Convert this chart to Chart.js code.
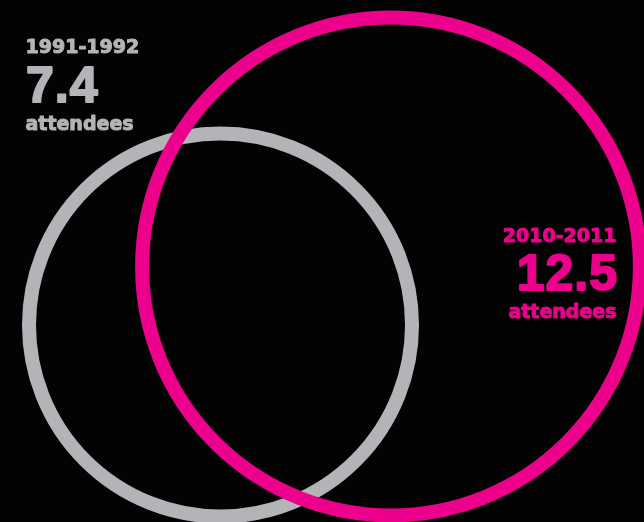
<!DOCTYPE html>
<html>
<head>
<meta charset="utf-8">
<script src="https://cdn.jsdelivr.net/npm/chart.js@4"></script>
<style>
  html, body { margin: 0; padding: 0; background: #030303; }
  #wrap { width: 644px; height: 522px; }
</style>
</head>
<body>
<div id="wrap"><canvas id="circles" width="644" height="522"></canvas></div>
<script>
// data
const periods = ['1991-1992', '2010-2011']
const attendees = [7.4, 12.5]
const unitLabel = 'attendees'

// layout / style (not data)
const centersX = [220.5, 391]
const centersY = [325, 266.5]
const colors = ['#b3b4b8', '#ec008c']
const radiusPerSqrt = 70.4   // circle area proportional to value

const points = attendees.map((v, i) => ({
    x: centersX[i],
    y: centersY[i],
    r: radiusPerSqrt * Math.sqrt(v)
}))

// heavier look: fill plus a thin stroke in the same colour
function heavyText(ctx, txt, x, y, w) {
    ctx.lineWidth = w
    ctx.lineJoin = 'round'
    ctx.strokeText(txt, x, y)
    ctx.fillText(txt, x, y)
}

const labelPlugin = {
    id: 'labels',
    afterDraw(chart) {
        const ctx = chart.ctx
        const spots = [
            { x: 25, align: 'left', y: [53, 102, 130] },
            { x: 617, align: 'right', y: [242, 290, 318] }
        ]
        ctx.save()
        ctx.textBaseline = 'alphabetic'
        periods.forEach((p, i) => {
            const s = spots[i]
            const nudge = s.align == 'right' ? -0.5 : 0.5
            ctx.fillStyle = colors[i]
            ctx.strokeStyle = colors[i]
            ctx.textAlign = s.align
            ctx.letterSpacing = '0px'
            ctx.font = 'bold 19px "DejaVu Sans"'
            heavyText(ctx, p, s.x + nudge, s.y[0], 1)
            ctx.letterSpacing = '1px'
            ctx.font = 'bold 50px "Liberation Sans"'
            heavyText(ctx, String(attendees[i]), s.x + (s.align == 'right' ? 1 : 1), s.y[1], 2)
            ctx.letterSpacing = '0px'
            ctx.font = 'bold 19px "DejaVu Sans"'
            heavyText(ctx, unitLabel, s.x + nudge, s.y[2], 1)
        })
        ctx.restore()
    }
}

const config = {
    type: 'bubble',
    data: {
        labels: periods,
        datasets: [{
            label: 'Attendees',
            data: points,
            backgroundColor: 'rgba(0,0,0,0)',
            borderColor: colors,
            borderWidth: 14,
            hoverBorderWidth: 14,
            clip: false
        }]
    },
    options: {
        responsive: false,
        animation: false,
        events: [],
        layout: { padding: 0, autoPadding: false },
        plugins: {
            legend: { display: false },
            tooltip: { enabled: false }
        },
        scales: {
            x: { type: 'linear', display: false, min: 0, max: 644 },
            y: { type: 'linear', display: false, min: 0, max: 522, reverse: true }
        }
    },
    plugins: [labelPlugin]
}

const CircleChart = new Chart(document.getElementById('circles'), config)
</script>
</body>
</html>
